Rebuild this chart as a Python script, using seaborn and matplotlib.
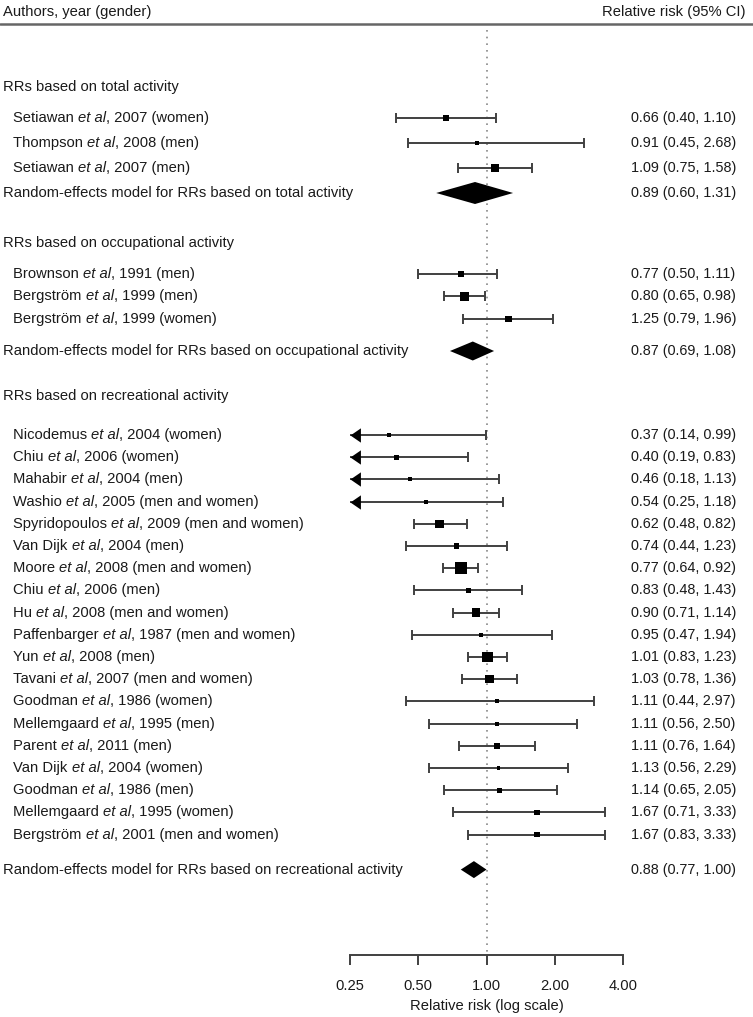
import matplotlib
matplotlib.use("Agg")
import numpy as np
import pandas as pd
import matplotlib.pyplot as plt
import matplotlib.transforms as mtransforms
from matplotlib.offsetbox import TextArea, HPacker, AnnotationBbox
import seaborn as sns

# ---- data ----
total_authors = ["Setiawan", "Thompson", "Setiawan"]
total_rest = [", 2007 (women)", ", 2008 (men)", ", 2007 (men)"]
total_rr = [0.66, 0.91, 1.09]
total_lo = [0.40, 0.45, 0.75]
total_hi = [1.10, 2.68, 1.58]
total_w = [3.7, 1.3, 5.3]
total_re = (0.89, 0.60, 1.31)

occ_authors = ["Brownson", "Bergström", "Bergström"]
occ_rest = [", 1991 (men)", ", 1999 (men)", ", 1999 (women)"]
occ_rr = [0.77, 0.80, 1.25]
occ_lo = [0.50, 0.65, 0.79]
occ_hi = [1.11, 0.98, 1.96]
occ_w = [3.7, 9.5, 3.7]
occ_re = (0.87, 0.69, 1.08)

rec_authors = ["Nicodemus", "Chiu", "Mahabir", "Washio", "Spyridopoulos", "Van Dijk",
               "Moore", "Chiu", "Hu", "Paffenbarger", "Yun", "Tavani", "Goodman",
               "Mellemgaard", "Parent", "Van Dijk", "Goodman", "Mellemgaard", "Bergström"]
rec_rest = [", 2004 (women)", ", 2006 (women)", ", 2004 (men)", ", 2005 (men and women)",
            ", 2009 (men and women)", ", 2004 (men)", ", 2008 (men and women)", ", 2006 (men)",
            ", 2008 (men and women)", ", 1987 (men and women)", ", 2008 (men)",
            ", 2007 (men and women)", ", 1986 (women)", ", 1995 (men)", ", 2011 (men)",
            ", 2004 (women)", ", 1986 (men)", ", 1995 (women)", ", 2001 (men and women)"]
rec_rr = [0.37, 0.40, 0.46, 0.54, 0.62, 0.74, 0.77, 0.83, 0.90, 0.95, 1.01, 1.03, 1.11,
          1.11, 1.11, 1.13, 1.14, 1.67, 1.67]
rec_lo = [0.14, 0.19, 0.18, 0.25, 0.48, 0.44, 0.64, 0.48, 0.71, 0.47, 0.83, 0.78, 0.44,
          0.56, 0.76, 0.56, 0.65, 0.71, 0.83]
rec_hi = [0.99, 0.83, 1.13, 1.18, 0.82, 1.23, 0.92, 1.43, 1.14, 1.94, 1.23, 1.36, 2.97,
          2.50, 1.64, 2.29, 2.05, 3.33, 3.33]
rec_w = [1.3, 2.4, 1.3, 1.3, 7.2, 2.4, 14.8, 2.4, 7.2, 1.3, 12.0, 7.2, 1.3, 1.3, 3.7,
         1.3, 2.4, 2.4, 2.4]
rec_re = (0.88, 0.77, 1.00)

sections = [
    ("RRs based on total activity", total_authors, total_rest, total_rr, total_lo, total_hi,
     total_w, "Random-effects model for RRs based on total activity", total_re),
    ("RRs based on occupational activity", occ_authors, occ_rest, occ_rr, occ_lo, occ_hi,
     occ_w, "Random-effects model for RRs based on occupational activity", occ_re),
    ("RRs based on recreational activity", rec_authors, rec_rest, rec_rr, rec_lo, rec_hi,
     rec_w, "Random-effects model for RRs based on recreational activity", rec_re),
]

# layout in pixel units: heading y, gap to first study, row step, gap to summary, diamond half-height
layout = [(87, 31, 25.0, 25, 11), (243, 31, 22.5, 32, 9.5), (396, 39, 22.2, 35, 8.5)]

XMIN, XMAX = 0.25, 4.0
W, H = 753, 1017
FS = 10.6
FS_NUM = 10.4
TXT = "#1a1a1a"
LINE = "#404040"

sns.set_style("white")
plt.rcParams["font.family"] = ["Liberation Sans", "DejaVu Sans"]

fig = plt.figure(figsize=(W / 100, H / 100), dpi=100)
ax = fig.add_axes([350 / W, (H - 955) / H, (623 - 350) / W, (955 - 30) / H])
ax.set_xscale("log", base=2)
ax.set_xlim(XMIN, XMAX)
ax.set_ylim(955, 30)

lab = mtransforms.blended_transform_factory(fig.transFigure, ax.transData)


def study_label(author, rest, y):
    parts = [TextArea(author + " ", textprops=dict(fontsize=FS, color=TXT)),
             TextArea("et al", textprops=dict(fontsize=FS, color=TXT, style="italic")),
             TextArea(rest, textprops=dict(fontsize=FS, color=TXT))]
    box = HPacker(children=parts, align="baseline", pad=0, sep=0)
    ab = AnnotationBbox(box, (13 / W, y), xycoords=lab, box_alignment=(0, 0.5),
                        frameon=False, pad=0, annotation_clip=False)
    ax.add_artist(ab)


rows = []
for (head, authors, rest, rr, lo, hi, w, re_lab, re), (hy, g1, step, g2, dh) in zip(sections, layout):
    ax.text(3 / W, hy, head, transform=lab, fontsize=FS, color=TXT, va="center", ha="left")
    ys = hy + g1 + step * np.arange(len(rr))
    for a, r, y, v, l, h in zip(authors, rest, ys, rr, lo, hi):
        study_label(a, r, y)
        ax.text(631 / W, y, f"{v:.2f} ({l:.2f}, {h:.2f})", transform=lab, fontsize=FS_NUM,
                color=TXT, va="center", ha="left")
    rows.append(pd.DataFrame(dict(rr=rr, lo=lo, hi=hi, w=w, y=ys)))
    # summary diamond
    ry = ys[-1] + g2
    ax.text(3 / W, ry, re_lab, transform=lab, fontsize=FS, color=TXT, va="center", ha="left")
    ax.text(631 / W, ry, f"{re[0]:.2f} ({re[1]:.2f}, {re[2]:.2f})", transform=lab,
            fontsize=FS_NUM, color=TXT, va="center", ha="left")
    ax.fill([re[1], re[0], re[2], re[0]], [ry, ry - dh, ry, ry + dh], color="black",
            lw=0, zorder=4)

df = pd.concat(rows, ignore_index=True)
clipped = df["lo"] <= XMIN
lo_draw = df["lo"].clip(lower=XMIN)

# confidence intervals
ax.hlines(df["y"], lo_draw, df["hi"], color=LINE, lw=1.4, zorder=2)
ax.plot(df["hi"], df["y"], ls="none", marker="|", ms=7.5, mew=1.4, color=LINE, zorder=2)
ax.plot(df.loc[~clipped, "lo"], df.loc[~clipped, "y"], ls="none", marker="|", ms=7.5,
        mew=1.4, color=LINE, zorder=2)
arrow = [(0, 0), (0.8, 0.55), (0.8, -0.55)]
ax.plot(np.full(clipped.sum(), XMIN), df.loc[clipped, "y"], ls="none", marker=arrow,
        ms=15, color="black", mew=0, zorder=3, clip_on=False)

# study squares, area ~ weight
sns.scatterplot(data=df, x="rr", y="y", size="w", sizes=(8, 72), marker="s",
                color="black", linewidth=0, legend=False, ax=ax, zorder=5)

# reference line at RR = 1
ax.vlines(1, 30, 952, colors="#888888", linestyles=(0, (1, 3)), lw=1.2, zorder=1)

# header
ax.text(3 / W, 12, "Authors, year (gender)", transform=lab, fontsize=FS, color=TXT,
        va="center", ha="left")
ax.text(745 / W, 12, "Relative risk (95% CI)", transform=lab, fontsize=FS, color=TXT,
        va="center", ha="right")
fig.add_artist(plt.Line2D([0, 1], [1 - 24 / H, 1 - 24 / H], color="#666666", lw=1.8))

# axis
for s in ["left", "right", "top"]:
    ax.spines[s].set_visible(False)
ax.spines["bottom"].set_color(LINE)
ax.spines["bottom"].set_linewidth(1.4)
ax.set_yticks([])
ax.set_xticks([0.25, 0.5, 1, 2, 4])
ax.set_xticklabels(["0.25", "0.50", "1.00", "2.00", "4.00"])
ax.xaxis.set_minor_locator(matplotlib.ticker.NullLocator())
ax.tick_params(axis="x", which="major", bottom=True, direction="out", length=7.5, width=1.4,
               color=LINE, labelsize=FS, labelcolor=TXT, pad=10)
ax.set_xlabel("Relative risk (log scale)", fontsize=FS, color=TXT, labelpad=4)
ax.set_ylabel("")

fig.savefig("out.png", dpi=100)
